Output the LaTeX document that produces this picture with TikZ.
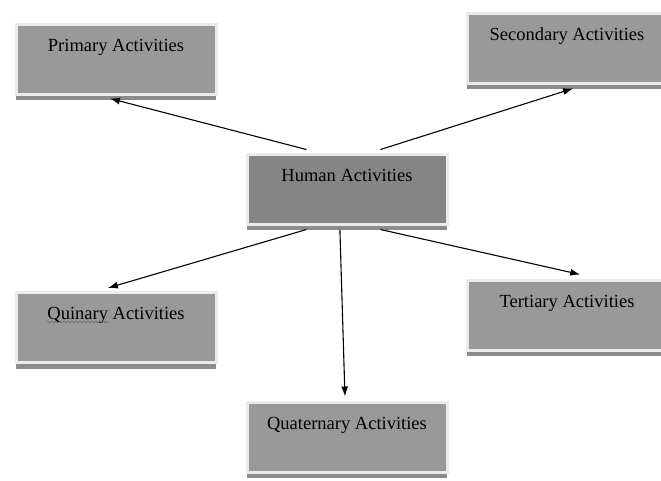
\documentclass[tikz,border=0pt]{standalone}
\usepackage{fontspec}
\setmainfont{Liberation Serif}
\usetikzlibrary{calc,shadows,arrows.meta,decorations.pathmorphing}

\begin{document}
\begin{tikzpicture}[x=1pt,y=-1pt]
\tikzset{box/.style = {shape=rectangle,fill=black!40,draw=black!8,line width=3pt,
  minimum width=200pt,inner xsep=0pt,inner ysep=0pt,text height=27pt,text depth=43pt,
  font=\fontsize{18.5}{22}\selectfont,
  drop shadow={shadow xshift=0pt,shadow yshift=-6pt,opacity=1,fill=black!45}}}
\tikzset{edge/.style = {->,> = {Latex[length=10pt,width=7pt]},line width=1.1pt}}
\useasboundingbox (0,0) rectangle (661,480);
\node[box] (prim) at (116,59) {Primary Activities};
\node[box] (sec) at (567,48) {Secondary Activities};
\node[box,fill=black!48] (hum) at (347,189) {Human Activities};
\node[box] (quin) at (116,327.5) {Quinary Activities};
\node[box] (tert) at (567,315) {Tertiary Activities};
\node[box] (quat) at (347,437) {Quaternary Activities};
% spelling mark under Quinary
\draw[black!60,line width=0.6pt,decorate,decoration={snake,amplitude=1pt,segment length=4pt}]
  ($(quin.north west)+(32,31)$) -- ($(quin.north west)+(94,31)$);
\draw[edge] ($(hum.north west)!0.3!(hum.north east)+(0,-3)$) to ($(prim.south west)!0.47!(prim.south east)+(0,3)$);
\draw[edge] ($(hum.north west)!0.665!(hum.north east)+(0,-3)$) to ($(sec.south west)!0.53!(sec.south east)+(0,4)$);
\draw[edge] ($(hum.south west)!0.3!(hum.south east)+(0,4)$) to ($(quin.north west)!0.46!(quin.north east)+(0,-3)$);
\draw[edge] ($(hum.south west)!0.665!(hum.south east)+(0,4)$) to ($(tert.north west)!0.565!(tert.north east)+(0,-4)$);
\draw[edge] ($(hum.south west)!0.465!(hum.south east)+(0,4)$) to ($(quat.north west)!0.49!(quat.north east)+(0,-4)$);
\end{tikzpicture}
\end{document}
